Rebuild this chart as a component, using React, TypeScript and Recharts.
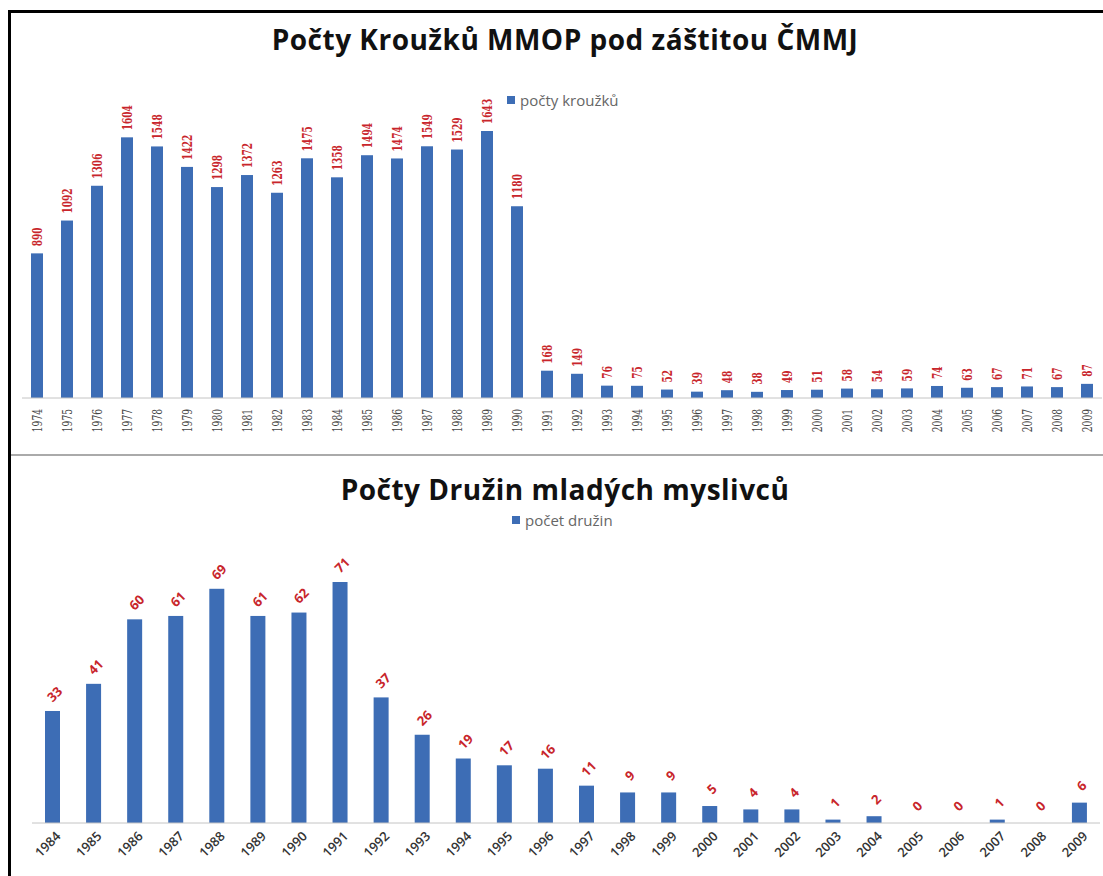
import React from "react";
import { Bar, BarChart, XAxis, YAxis } from "recharts";

// Počty kroužků MMOP (1974–2009)
const krouzkyYears = [
  "1974", "1975", "1976", "1977", "1978", "1979", "1980", "1981", "1982",
  "1983", "1984", "1985", "1986", "1987", "1988", "1989", "1990", "1991",
  "1992", "1993", "1994", "1995", "1996", "1997", "1998", "1999", "2000",
  "2001", "2002", "2003", "2004", "2005", "2006", "2007", "2008", "2009",
];
const krouzkyValues = [
  890, 1092, 1306, 1604, 1548, 1422, 1298, 1372, 1263, 1475, 1358, 1494,
  1474, 1549, 1529, 1643, 1180, 168, 149, 76, 75, 52, 39, 48, 38, 49, 51, 58,
  54, 59, 74, 63, 67, 71, 67, 87,
];

// Počty družin mladých myslivců (1984–2009)
const druzinyYears = [
  "1984", "1985", "1986", "1987", "1988", "1989", "1990", "1991", "1992",
  "1993", "1994", "1995", "1996", "1997", "1998", "1999", "2000", "2001",
  "2002", "2003", "2004", "2005", "2006", "2007", "2008", "2009",
];
const druzinyValues = [
  33, 41, 60, 61, 69, 61, 62, 71, 37, 26, 19, 17, 16, 11, 9, 9, 5, 4, 4, 1, 2,
  0, 0, 1, 0, 6,
];

const krouzkyData = krouzkyYears.map((year, i) => ({ year, value: krouzkyValues[i] }));
const druzinyData = druzinyYears.map((year, i) => ({ year, value: druzinyValues[i] }));

const BAR = "#3d6db5";
const LABEL_RED = "#c8252b";
const AXIS = "#c4c4c4";
const TITLE_FONT = "'Open Sans', sans-serif";

// the upper chart uses a narrow serif, so the text is squeezed with textLength
function VerticalTick({ x, y, payload }: any) {
  const tx = x + 5;
  const ty = y + 11;
  const s = String(payload.value);
  return (
    <text
      x={tx}
      y={ty}
      transform={`rotate(-90 ${tx} ${ty})`}
      textAnchor="end"
      fontSize={13}
      fontFamily="'DejaVu Serif', serif"
      fill="#444"
      textLength={s.length * 5.8}
      lengthAdjust="spacingAndGlyphs"
    >
      {s}
    </text>
  );
}

function SlantTick({ x, y, payload }: any) {
  const tx = x + 9;
  const ty = y + 14;
  return (
    <text
      x={tx}
      y={ty}
      transform={`rotate(-45 ${tx} ${ty})`}
      textAnchor="end"
      fontSize={13}
      fontWeight={600}
      fontFamily="'Open Sans', sans-serif"
      fill="#333"
    >
      {payload.value}
    </text>
  );
}

// bar + its rotated value label, drawn together in the bar shape
const verticalBar = (props: any) => {
  const { x, y, width, height, payload } = props;
  const cx = x + width / 2 + 5;
  const cy = y - 7;
  const s = String(payload.value);
  return (
    <g>
      <rect x={x} y={y} width={width} height={Math.max(height, 0)} fill={BAR} />
      <text
        x={cx}
        y={cy}
        transform={`rotate(-90 ${cx} ${cy})`}
        textAnchor="start"
        fontSize={13}
        fontWeight="bold"
        fontFamily="'DejaVu Serif', serif"
        fill={LABEL_RED}
        textLength={s.length * 6.3}
        lengthAdjust="spacingAndGlyphs"
      >
        {s}
      </text>
    </g>
  );
};

const slantBar = (props: any) => {
  const { x, y, width, height, payload } = props;
  const cx = x + width / 2 + 3;
  const cy = y - 16;
  return (
    <g>
      <rect x={x} y={y} width={width} height={Math.max(height, 0)} fill={BAR} />
      <text
        x={cx}
        y={cy}
        transform={`rotate(-45 ${cx} ${cy})`}
        textAnchor="middle"
        dominantBaseline="middle"
        fontSize={13}
        fontWeight="bold"
        fontFamily="'Open Sans', sans-serif"
        fill={LABEL_RED}
      >
        {payload.value}
      </text>
    </g>
  );
};

function LegendItem({ left, top, text }: { left: number; top: number; text: string }) {
  return (
    <div
      style={{
        position: "absolute",
        left,
        top,
        fontFamily: TITLE_FONT,
        fontSize: 15,
        color: "#666",
        display: "flex",
        alignItems: "center",
        gap: 5,
        whiteSpace: "nowrap",
      }}
    >
      <span style={{ width: 8, height: 8, background: BAR, display: "inline-block" }} />
      {text}
    </div>
  );
}

function Title({ top, text }: { top: number; text: string }) {
  return (
    <div
      style={{
        position: "absolute",
        left: 0,
        width: 1130,
        top,
        textAlign: "center",
        fontFamily: TITLE_FONT,
        fontWeight: "bold",
        fontSize: 28,
        letterSpacing: 0.5,
        color: "#111",
        whiteSpace: "nowrap",
      }}
    >
      {text}
    </div>
  );
}

export default function App() {
  return (
    <div
      style={{
        position: "absolute",
        left: 0,
        top: 0,
        width: 1103,
        height: 876,
        background: "#fff",
        overflow: "hidden",
      }}
    >
      <div style={{ position: "absolute", left: 8, top: 10, width: 1095, height: 3, background: "#000" }} />
      <div style={{ position: "absolute", left: 8, top: 10, width: 3, height: 866, background: "#000" }} />
      <div style={{ position: "absolute", left: 11, top: 454, width: 1092, height: 2, background: "#aaa" }} />

      <Title top={20} text="Počty Kroužků MMOP pod záštitou ČMMJ" />
      <LegendItem left={507} top={90} text="počty kroužků" />

      <div style={{ position: "absolute", left: 0, top: 0 }}>
        <BarChart
          width={1103}
          height={455}
          data={krouzkyData}
          margin={{ top: 131, right: 1, left: 22, bottom: 0 }}
          barCategoryGap={0}
        >
          <XAxis
            dataKey="year"
            interval={0}
            height={57}
            tickLine={false}
            tickSize={0}
            tickMargin={0}
            axisLine={{ stroke: AXIS }}
            tick={<VerticalTick />}
          />
          <YAxis hide domain={[0, "dataMax"]} />
          <Bar
            dataKey="value"
            fill={BAR}
            barSize={12}
            shape={verticalBar}
            isAnimationActive={false}
          />
        </BarChart>
      </div>

      <Title top={470} text="Počty Družin mladých myslivců" />
      <LegendItem left={512} top={510} text="počet družin" />

      <div style={{ position: "absolute", left: 0, top: 455 }}>
        <BarChart
          width={1103}
          height={421}
          data={druzinyData}
          margin={{ top: 127, right: 3, left: 32, bottom: 0 }}
          barCategoryGap={0}
        >
          <XAxis
            dataKey="year"
            interval={0}
            height={53}
            tickLine={false}
            tickSize={0}
            tickMargin={0}
            axisLine={{ stroke: AXIS }}
            tick={<SlantTick />}
          />
          <YAxis hide domain={[0, "dataMax"]} />
          <Bar
            dataKey="value"
            fill={BAR}
            barSize={15}
            minPointSize={0.01}
            shape={slantBar}
            isAnimationActive={false}
          />
        </BarChart>
      </div>
    </div>
  );
}
